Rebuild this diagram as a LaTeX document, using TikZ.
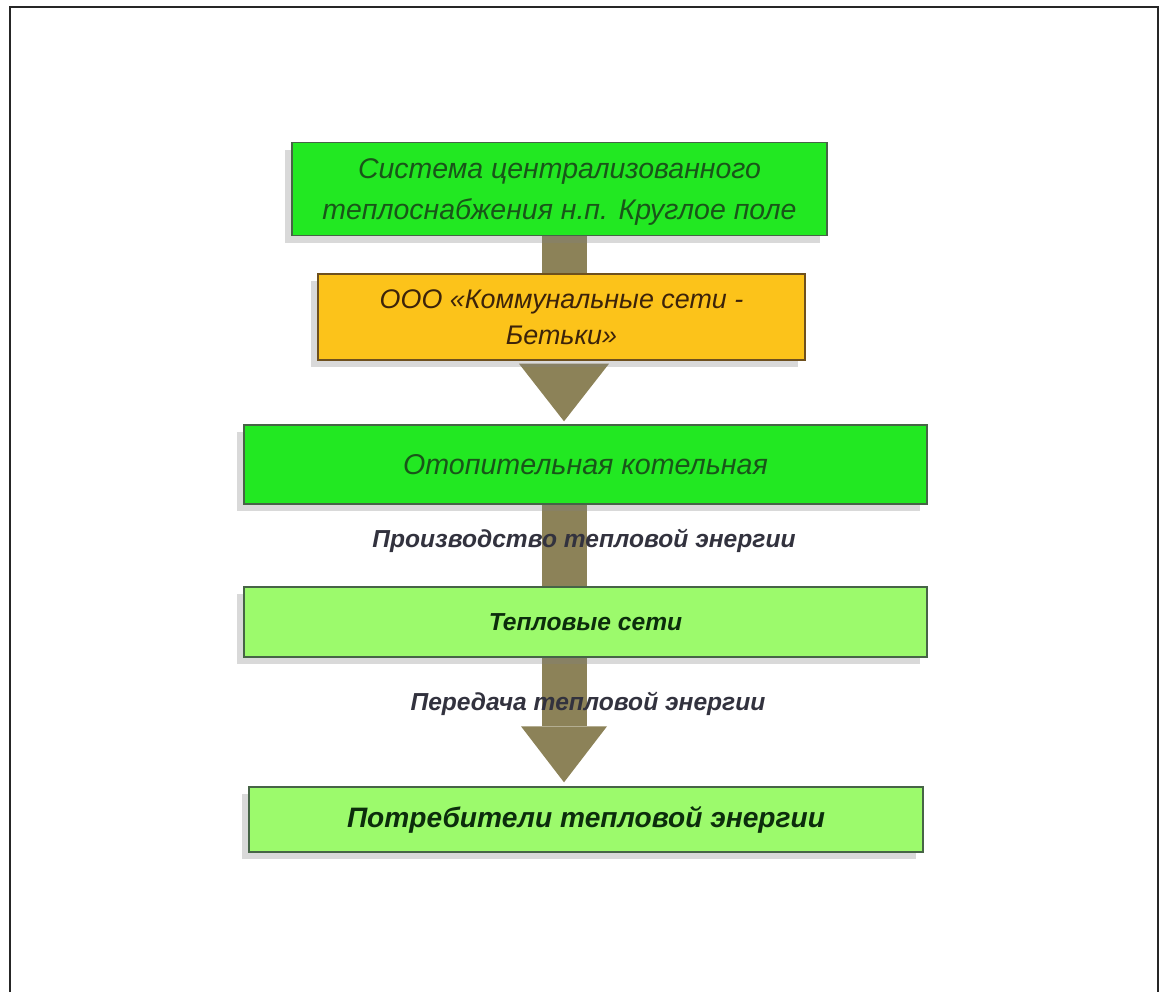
\documentclass[tikz,border=0pt]{standalone}
\usepackage{fontspec}
\setmainfont{Liberation Sans}
\usepackage{xcolor}
\usetikzlibrary{positioning,calc,shadows,backgrounds}

\definecolor{brightgreen}{RGB}{34,232,34}
\definecolor{lightgreen}{RGB}{156,250,108}
\definecolor{orangebox}{RGB}{252,195,26}
\definecolor{boxedge}{RGB}{70,100,70}
\definecolor{orangeedge}{RGB}{110,80,30}
\definecolor{flowc}{RGB}{140,130,88}
\definecolor{greentext}{RGB}{25,85,25}
\definecolor{darkgreentext}{RGB}{12,45,12}
\definecolor{browntext}{RGB}{60,35,10}
\definecolor{labelc}{RGB}{50,50,62}

\begin{document}
\begin{tikzpicture}[x=0.02cm, y=-0.02cm,
    box/.style={draw=boxedge, line width=0.8pt, inner sep=0pt, align=center,
        drop shadow={shadow xshift=-0.14cm, shadow yshift=-0.14cm, opacity=0.3, fill=gray}},
    shaft/.style={draw=flowc, line width=0.9cm},
    flow/.style={fill=flowc},
    lbl/.style={font=\bfseries\itshape\fontsize{14}{16}\selectfont, text=labelc}]
    \useasboundingbox (0,0) rectangle (1162,992);
    \draw[line width=1.1pt, black!85] (10,992) -- (10,7) -- (1158,7) -- (1158,992);
    \coordinate (ax) at (564,0);
    % boxes
    \node[box, fill=brightgreen, text=greentext, minimum width=10.7cm, minimum height=1.86cm, text depth=0pt,
        font=\itshape\fontsize{16.2}{23}\selectfont] (sys) at (559.5,189)
        {Система централизованного\\теплоснабжения н.п. Круглое поле};
    \node[box, draw=orangeedge, fill=orangebox, text=browntext, minimum width=9.74cm, minimum height=1.72cm,
        font=\itshape\fontsize{15.3}{20.5}\selectfont] (ooo) at (561.5,317)
        {ООО «Коммунальные сети -\\Бетьки»};
    \node[box, fill=brightgreen, text=greentext, minimum width=13.66cm, minimum height=1.58cm,
        font=\itshape\fontsize{16.3}{20}\selectfont] (boiler) at (585.5,464.5) {Отопительная котельная};
    \node[box, fill=lightgreen, text=darkgreentext, minimum width=13.66cm, minimum height=1.4cm,
        font=\bfseries\itshape\fontsize{14}{17}\selectfont] (nets) at (585.5,622) {Тепловые сети};
    \node[box, fill=lightgreen, text=darkgreentext, minimum width=13.48cm, minimum height=1.3cm,
        font=\bfseries\itshape\fontsize{16}{19}\selectfont] (cons) at (586,819.5) {Потребители тепловой энергии};
    % arrows
    \begin{scope}[on background layer]
    \draw[shaft] (sys.south -| ax) -- (ooo.north -| ax);
    \fill[flow] ($(ooo.south -| ax)+(-45,3)$) -- ($(ooo.south -| ax)+(45,3)$) -- ($(boiler.north -| ax)+(0,-3)$) -- cycle;
    \draw[shaft] (boiler.south -| ax) -- (nets.north -| ax);
    \draw[shaft] (nets.south -| ax) -- ($(cons.north -| ax)+(0,-60)$);
    \fill[flow] ($(cons.north -| ax)+(-43,-60)$) -- ($(cons.north -| ax)+(43,-60)$) -- ($(cons.north -| ax)+(0,-4)$) -- cycle;
    \end{scope}
    \node[lbl] (prod) at (584,541) {Производство тепловой энергии};
    \node[lbl] (trans) at (588,704) {Передача тепловой энергии};
\end{tikzpicture}
\end{document}
